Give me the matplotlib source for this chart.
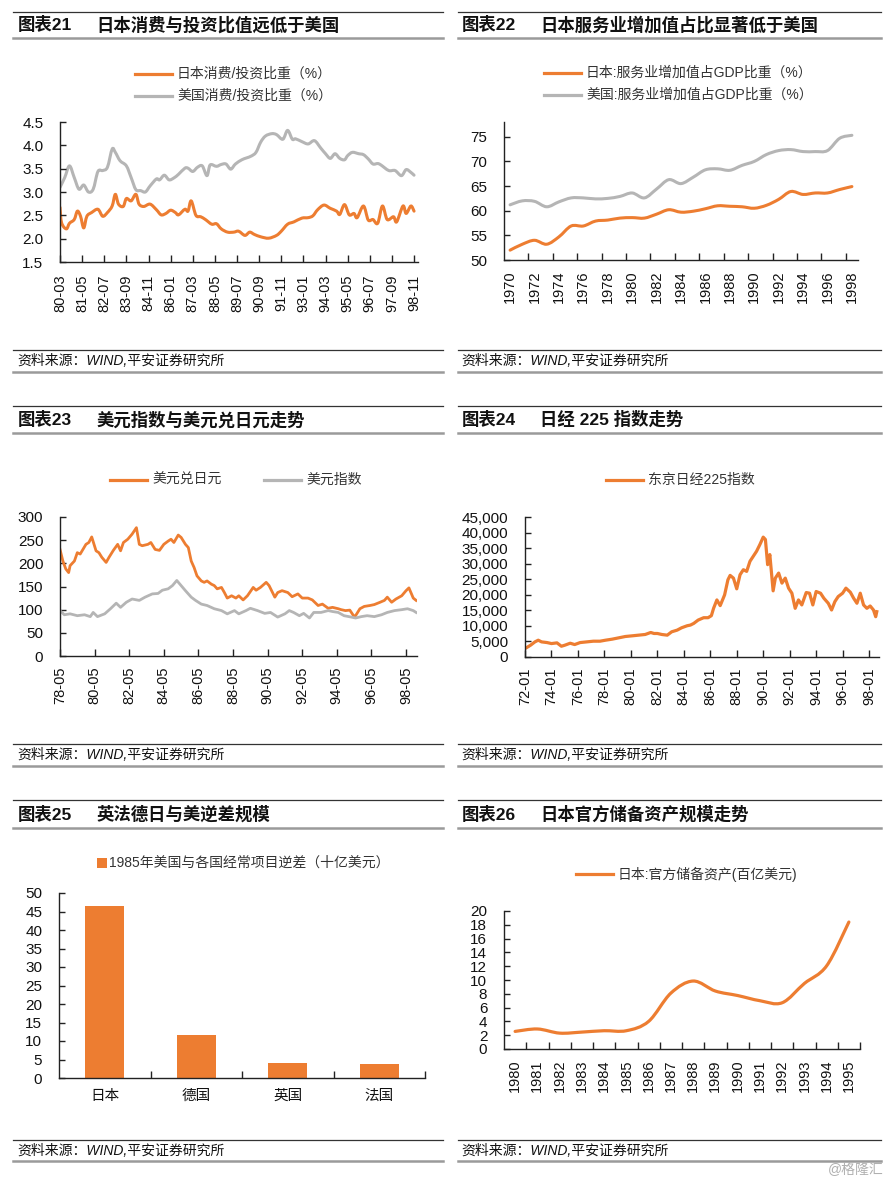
import numpy as np
import matplotlib
matplotlib.use('Agg')
import matplotlib.pyplot as plt
from matplotlib.lines import Line2D
from matplotlib.patches import Rectangle, PathPatch
from matplotlib.path import Path
from matplotlib.ticker import FuncFormatter

plt.rcParams['font.family'] = ['Liberation Sans', 'Noto Sans CJK SC']

# ---- chart 21: consumption / investment ratio (months since 1980-03)
p1_labels = ['80-03', '81-05', '82-07', '83-09', '84-11', '86-01', '87-03', '88-05', '89-07',
             '90-09', '91-11', '93-01', '94-03', '95-05', '96-07', '97-09', '98-11']
jp_month = [0, 1, 4, 6, 9, 11, 13, 15, 17, 20, 24, 27, 30, 33, 35, 37, 40, 42, 45, 48,
            50, 53, 57, 61, 64, 67, 70, 73, 75, 79, 81, 83, 86, 89, 92, 96, 99, 102, 106, 110,
            113, 117, 120, 123, 127, 132, 137, 140, 144, 148, 153, 157, 160, 163, 167, 171, 175, 177, 180, 183,
            186, 188, 192, 195, 198, 201, 204, 207, 211, 213, 217, 219, 222, 224]
jp_ratio = [2.67, 2.34, 2.21, 2.33, 2.41, 2.59, 2.48, 2.23, 2.48, 2.56, 2.63, 2.48, 2.56, 2.70, 2.95, 2.74, 2.69, 2.86, 2.81, 2.95,
            2.74, 2.69, 2.74, 2.62, 2.51, 2.54, 2.61, 2.56, 2.51, 2.63, 2.59, 2.81, 2.50, 2.47, 2.41, 2.31, 2.32, 2.21, 2.14, 2.14,
            2.16, 2.07, 2.14, 2.09, 2.04, 2.01, 2.07, 2.16, 2.31, 2.36, 2.44, 2.45, 2.49, 2.62, 2.72, 2.65, 2.59, 2.52, 2.73, 2.51,
            2.54, 2.45, 2.70, 2.40, 2.41, 2.33, 2.70, 2.41, 2.47, 2.36, 2.70, 2.54, 2.70, 2.59]
us_month = [0, 3, 6, 9, 12, 15, 18, 21, 24, 27, 30, 33, 35, 38, 42, 45, 48, 51, 54, 57,
            61, 63, 66, 69, 72, 75, 79, 81, 84, 87, 90, 93, 95, 99, 102, 105, 108, 111, 115, 118,
            121, 124, 127, 130, 134, 137, 141, 144, 147, 149, 153, 157, 161, 165, 168, 171, 174, 177, 180, 182,
            185, 189, 192, 195, 198, 201, 203, 208, 212, 216, 219, 222, 224]
us_ratio = [3.10, 3.31, 3.56, 3.31, 3.06, 3.15, 3.00, 3.06, 3.44, 3.46, 3.53, 3.92, 3.85, 3.67, 3.56, 3.31, 3.05, 3.03, 3.00, 3.13,
            3.28, 3.26, 3.36, 3.26, 3.30, 3.38, 3.51, 3.51, 3.44, 3.53, 3.56, 3.35, 3.58, 3.55, 3.59, 3.60, 3.49, 3.60, 3.69, 3.73,
            3.77, 3.85, 4.07, 4.20, 4.25, 4.23, 4.13, 4.32, 4.13, 4.14, 4.08, 4.03, 4.10, 3.94, 3.82, 3.72, 3.82, 3.72, 3.69, 3.78,
            3.85, 3.82, 3.80, 3.71, 3.60, 3.61, 3.58, 3.46, 3.46, 3.35, 3.48, 3.42, 3.36]

# ---- chart 22: services share of GDP
p2_years = list(range(1970, 1999))
jp_service = [52.0, 53.2, 54.0, 53.2, 54.7, 56.9, 56.9, 57.9, 58.1, 58.5, 58.6, 58.5, 59.3, 60.2, 59.7,
              59.9, 60.4, 61.0, 60.9, 60.8, 60.5, 61.1, 62.3, 63.9, 63.3, 63.6, 63.6, 64.3, 64.9]
us_service = [61.2, 62.0, 61.9, 60.8, 61.8, 62.6, 62.6, 62.4, 62.5, 62.9, 63.6, 62.6, 64.4, 66.3, 65.5,
              66.8, 68.3, 68.5, 68.2, 69.2, 70.0, 71.4, 72.2, 72.4, 72.0, 72.0, 72.2, 74.7, 75.3]

# ---- chart 23: USD/JPY and dollar index (months since 1978-05)
p3_labels = ['78-05', '80-05', '82-05', '84-05', '86-05', '88-05', '90-05', '92-05', '94-05', '96-05', '98-05']
yen_month = [0, 2, 4, 6, 7, 10, 12, 14, 18, 20, 22, 25, 27, 29, 32, 34, 37, 40, 42, 44,
             47, 50, 53, 55, 57, 61, 63, 66, 69, 72, 75, 77, 79, 82, 84, 87, 89, 91, 93, 95,
             98, 100, 102, 105, 107, 109, 112, 114, 116, 119, 122, 124, 127, 130, 134, 136, 139, 143, 145, 149,
             151, 154, 158, 161, 165, 168, 172, 175, 179, 182, 186, 189, 193, 195, 198, 201, 204, 205, 208, 211,
             215, 218, 222, 225, 227, 230, 233, 237, 240, 242, 245, 247]
usd_jpy = [230, 205, 188, 180, 195, 205, 223, 220, 241, 245, 257, 227, 223, 213, 202, 213, 228, 241, 227, 245,
           252, 263, 277, 241, 238, 241, 245, 230, 228, 241, 248, 252, 245, 261, 256, 241, 234, 205, 191, 173,
           162, 159, 162, 155, 152, 145, 148, 137, 125, 130, 125, 130, 121, 130, 148, 142, 148, 159, 152, 127,
           137, 141, 137, 128, 134, 125, 125, 121, 109, 112, 103, 105, 102, 100, 98, 99, 85, 87, 102, 107,
           109, 111, 116, 120, 127, 116, 123, 130, 141, 147, 125, 120]
dxy_month = [0, 3, 7, 12, 17, 21, 23, 26, 31, 35, 39, 42, 46, 50, 55, 59, 64, 68, 71, 75,
             78, 81, 84, 87, 91, 94, 98, 102, 107, 112, 116, 121, 124, 129, 132, 137, 142, 146, 151, 156,
             159, 162, 166, 169, 173, 176, 181, 186, 189, 193, 197, 202, 205, 209, 213, 218, 223, 227, 232, 237,
             241, 245, 247]
dxy = [98, 89, 91, 87, 89, 85, 94, 85, 91, 102, 114, 105, 116, 123, 120, 127, 134, 135, 142, 145,
       152, 163, 152, 141, 127, 120, 112, 109, 102, 98, 91, 98, 91, 98, 103, 98, 92, 94, 84, 91,
       98, 94, 87, 92, 82, 94, 94, 98, 96, 94, 87, 84, 82, 85, 87, 85, 89, 94, 98, 100,
       102, 98, 94]

# ---- chart 24: Nikkei 225 (months since 1972-01)
p4_labels = ['72-01', '74-01', '76-01', '78-01', '80-01', '82-01', '84-01', '86-01', '88-01',
             '90-01', '92-01', '94-01', '96-01', '98-01']
nk_month = [0, 5, 9, 12, 15, 20, 24, 29, 33, 36, 41, 45, 50, 56, 62, 68, 73, 79, 85, 91,
            97, 103, 109, 114, 117, 120, 124, 129, 133, 138, 142, 147, 150, 153, 157, 162, 166, 169, 171, 174,
            177, 181, 184, 186, 189, 192, 195, 198, 201, 204, 207, 210, 213, 216, 218, 220, 222, 225, 227, 230,
            233, 236, 239, 242, 245, 248, 251, 255, 258, 261, 264, 268, 271, 275, 278, 281, 284, 288, 291, 295,
            298, 301, 304, 307, 310, 313, 316, 318, 319]
nikkei = [2700, 3780, 4860, 5400, 4860, 4640, 4320, 4540, 3460, 3780, 4430, 4000, 4640, 4860, 5080, 5080, 5400, 5730, 6160, 6590,
          6800, 7020, 7240, 7880, 7560, 7560, 7240, 7020, 8100, 8640, 9390, 10040, 10260, 10800, 11870, 12630, 12630, 13280, 15650, 18350,
          16510, 19970, 24820, 26230, 25360, 21910, 26440, 28060, 27520, 30760, 32380, 34000, 36150, 38530, 37770, 29680, 32920, 21260, 25360, 26980,
          23740, 25360, 22130, 20510, 15650, 18350, 16730, 20720, 20510, 16730, 21050, 20510, 18890, 17270, 15110, 17810, 19430, 20510, 22130, 20830,
          18890, 17270, 20510, 16730, 15650, 16400, 15110, 12950, 14570]

# ---- chart 25: 1985 US current account deficit by country
countries = ['日本', '德国', '英国', '法国']
deficit = [46.5, 11.6, 4.1, 3.9]

# ---- chart 26: Japan official reserves
p6_years = list(range(1980, 1996))
reserves = [2.55, 2.9, 2.3, 2.45, 2.65, 2.65, 4.0, 8.1, 9.85, 8.4, 7.75, 7.0, 6.7, 9.5, 12.05, 18.4]

ORANGE = '#ED7D31'
GRAY = '#B5B5B5'
INK = '#222222'
W, H = 892, 1184

fig = plt.figure(figsize=(W / 100, H / 100), dpi=100)


def make_ax(x0, x1, ytop, ybot):
    return fig.add_axes([x0 / W, 1 - ybot / H, (x1 - x0) / W, (ybot - ytop) / H])


def rule(x0, x1, y, color, lw):
    fig.add_artist(Line2D([x0 / W, x1 / W], [1 - y / H, 1 - y / H],
                          transform=fig.transFigure, color=color, lw=lw))


def header(x, x0, x1, y_top, y_bot, num, title):
    rule(x0, x1, y_top, '#333333', 0.9)
    rule(x0, x1, y_bot, '#9a9a9a', 1.8)
    ty = 1 - (y_top + y_bot) / 2 / H
    fig.text(x / W, ty, num, fontsize=12.5, fontweight='bold', va='center', color='#111111')
    fig.text((x + 79) / W, ty, title, fontsize=12.5, fontweight='bold', va='center', color='#111111')


def footer(x, x0, x1, y_top, y_bot):
    rule(x0, x1, y_top, '#333333', 0.9)
    rule(x0, x1, y_bot, '#9a9a9a', 1.8)
    fig.text(x / W, 1 - (y_top + y_bot) / 2 / H, '资料来源：WIND,平安证券研究所',
             fontsize=10, style='italic', va='center', color='#111111')


def legend_line(x, y, color, label):
    fig.add_artist(Line2D([x / W, (x + 37) / W], [1 - y / H, 1 - y / H],
                          transform=fig.transFigure, color=color, lw=2.3))
    fig.text((x + 42) / W, 1 - y / H, label, fontsize=10, va='center', color='#333333')


def smooth_line(ax, x, y, color, lw):
    # Excel-style smoothed line: bezier segments through every data point
    pts = np.column_stack([x, y]).astype(float)
    n = len(pts)
    verts, codes = [pts[0]], [Path.MOVETO]
    for i in range(n - 1):
        p0, p1 = pts[max(i - 1, 0)], pts[i]
        p2, p3 = pts[i + 1], pts[min(i + 2, n - 1)]
        verts += [p1 + (p2 - p0) / 6, p2 - (p3 - p1) / 6, p2]
        codes += [Path.CURVE4] * 3
    ax.add_patch(PathPatch(Path(verts, codes), fill=False, edgecolor=color, lw=lw,
                           capstyle='round', joinstyle='round'))


def style(ax, rotate=True):
    for s in ['top', 'right']:
        ax.spines[s].set_visible(False)
    for s in ['left', 'bottom']:
        ax.spines[s].set_linewidth(1.0)
        ax.spines[s].set_color(INK)
    ax.tick_params(axis='both', which='both', direction='in', color=INK, width=1.0, labelcolor='#111111')
    ax.tick_params(axis='y', length=4, pad=12, labelsize=11)
    ax.tick_params(axis='x', which='both', length=5, pad=7.5, labelsize=10.5)
    if rotate:
        ax.tick_params(axis='x', labelrotation=90)


# frames
header(17.5, 13, 443, 12, 38, '图表21', '日本消费与投资比值远低于美国')
header(461.5, 458, 881, 12, 38, '图表22', '日本服务业增加值占比显著低于美国')
header(17.5, 13, 443, 406, 433, '图表23', '美元指数与美元兑日元走势')
header(461.5, 458, 881, 406, 433, '图表24', '日经 225 指数走势')
header(17.5, 13, 443, 800, 828, '图表25', '英法德日与美逆差规模')
header(461.5, 458, 881, 800, 828, '图表26', '日本官方储备资产规模走势')
footer(17.5, 13, 443, 350, 372)
footer(461.5, 458, 881, 350, 372)
footer(17.5, 13, 443, 744, 766)
footer(461.5, 458, 881, 744, 766)
footer(17.5, 13, 443, 1140, 1161)
footer(461.5, 458, 881, 1140, 1161)

# chart 21
ax1 = make_ax(60, 418, 122, 262)
smooth_line(ax1, jp_month, jp_ratio, ORANGE, 2.2)
smooth_line(ax1, us_month, us_ratio, GRAY, 2.2)
ax1.set_xlim(0, 226.5)
ax1.set_ylim(1.5, 4.5)
ax1.set_yticks(np.arange(1.5, 4.6, 0.5))
ax1.yaxis.set_major_formatter(FuncFormatter(lambda v, p: f'{v:.1f}'))
ax1.set_xticks(np.arange(0, 225, 14))
ax1.set_xticklabels(p1_labels)
style(ax1)
ax1.tick_params(axis='x', pad=9)
legend_line(135, 74, ORANGE, '日本消费/投资比重（%）')
legend_line(135, 96, GRAY, '美国消费/投资比重（%）')

# chart 22
ax2 = make_ax(504, 858, 122, 260)
smooth_line(ax2, p2_years, jp_service, ORANGE, 2.2)
smooth_line(ax2, p2_years, us_service, GRAY, 2.2)
ax2.set_xlim(1969.5, 1998.5)
ax2.set_ylim(50, 78)
ax2.set_yticks(np.arange(50, 76, 5))
ax2.set_xticks(p2_years[::2])
ax2.set_xticks(np.arange(1971.5, 1998, 2), minor=True)
style(ax2)
ax2.tick_params(axis='x', which='major', length=0)
legend_line(544, 73, ORANGE, '日本:服务业增加值占GDP比重（%）')
legend_line(544, 95, GRAY, '美国:服务业增加值占GDP比重（%）')

# chart 23
ax3 = make_ax(60, 417, 517, 656)
ax3.plot(yen_month, usd_jpy, color=ORANGE, lw=2.0, solid_joinstyle='round')
ax3.plot(dxy_month, dxy, color=GRAY, lw=2.0, solid_joinstyle='round')
ax3.set_xlim(0, 247.6)
ax3.set_ylim(0, 300)
ax3.set_yticks(np.arange(0, 301, 50))
ax3.set_xticks(np.arange(0, 241, 24))
ax3.set_xticklabels(p3_labels)
style(ax3)
legend_line(110, 480, ORANGE, '美元兑日元')
legend_line(264, 480, GRAY, '美元指数')

# chart 24
ax4 = make_ax(525, 879, 517, 657)
ax4.plot(nk_month, nikkei, color=ORANGE, lw=2.3, solid_joinstyle='round')
ax4.set_xlim(0, 321)
ax4.set_ylim(0, 45000)
ax4.set_yticks(np.arange(0, 45001, 5000))
ax4.yaxis.set_major_formatter(FuncFormatter(lambda v, p: f'{v:,.0f}'))
ax4.set_xticks(np.arange(0, 313, 24))
ax4.set_xticklabels(p4_labels)
style(ax4)
legend_line(606, 480, ORANGE, '东京日经225指数')

# chart 25
ax5 = make_ax(59, 425, 893, 1078)
ax5.bar(range(len(countries)), deficit, width=0.43, color=ORANGE)
ax5.set_xlim(-0.5, 3.5)
ax5.set_ylim(0, 50)
ax5.set_yticks(np.arange(0, 51, 5))
ax5.set_xticks(range(len(countries)))
ax5.set_xticklabels(countries)
ax5.set_xticks(np.arange(0.5, 4, 1), minor=True)
style(ax5, rotate=False)
ax5.tick_params(axis='x', which='major', length=0, pad=8)
fig.add_artist(Rectangle((97 / W, 1 - 868 / H), 10 / W, 10 / H, transform=fig.transFigure,
                         color=ORANGE, lw=0))
fig.text(109 / W, 1 - 863 / H, '1985年美国与各国经常项目逆差（十亿美元）', fontsize=10,
         va='center', color='#333333')

# chart 26
ax6 = make_ax(504, 860, 911, 1049)
smooth_line(ax6, p6_years, reserves, ORANGE, 2.3)
ax6.set_xlim(1979.5, 1995.5)
ax6.set_ylim(0, 20)
ax6.set_yticks(np.arange(0, 21, 2))
ax6.set_xticks(p6_years)
ax6.set_xticks(np.arange(1980.5, 1996, 1), minor=True)
style(ax6)
ax6.tick_params(axis='x', which='major', length=0)
legend_line(576, 874, ORANGE, '日本:官方储备资产(百亿美元)')

fig.text(884 / W, 1 - 1170 / H, '@格隆汇', fontsize=10, ha='right', va='center', color='#b0b0b0')

fig.savefig('out.png', dpi=100)
